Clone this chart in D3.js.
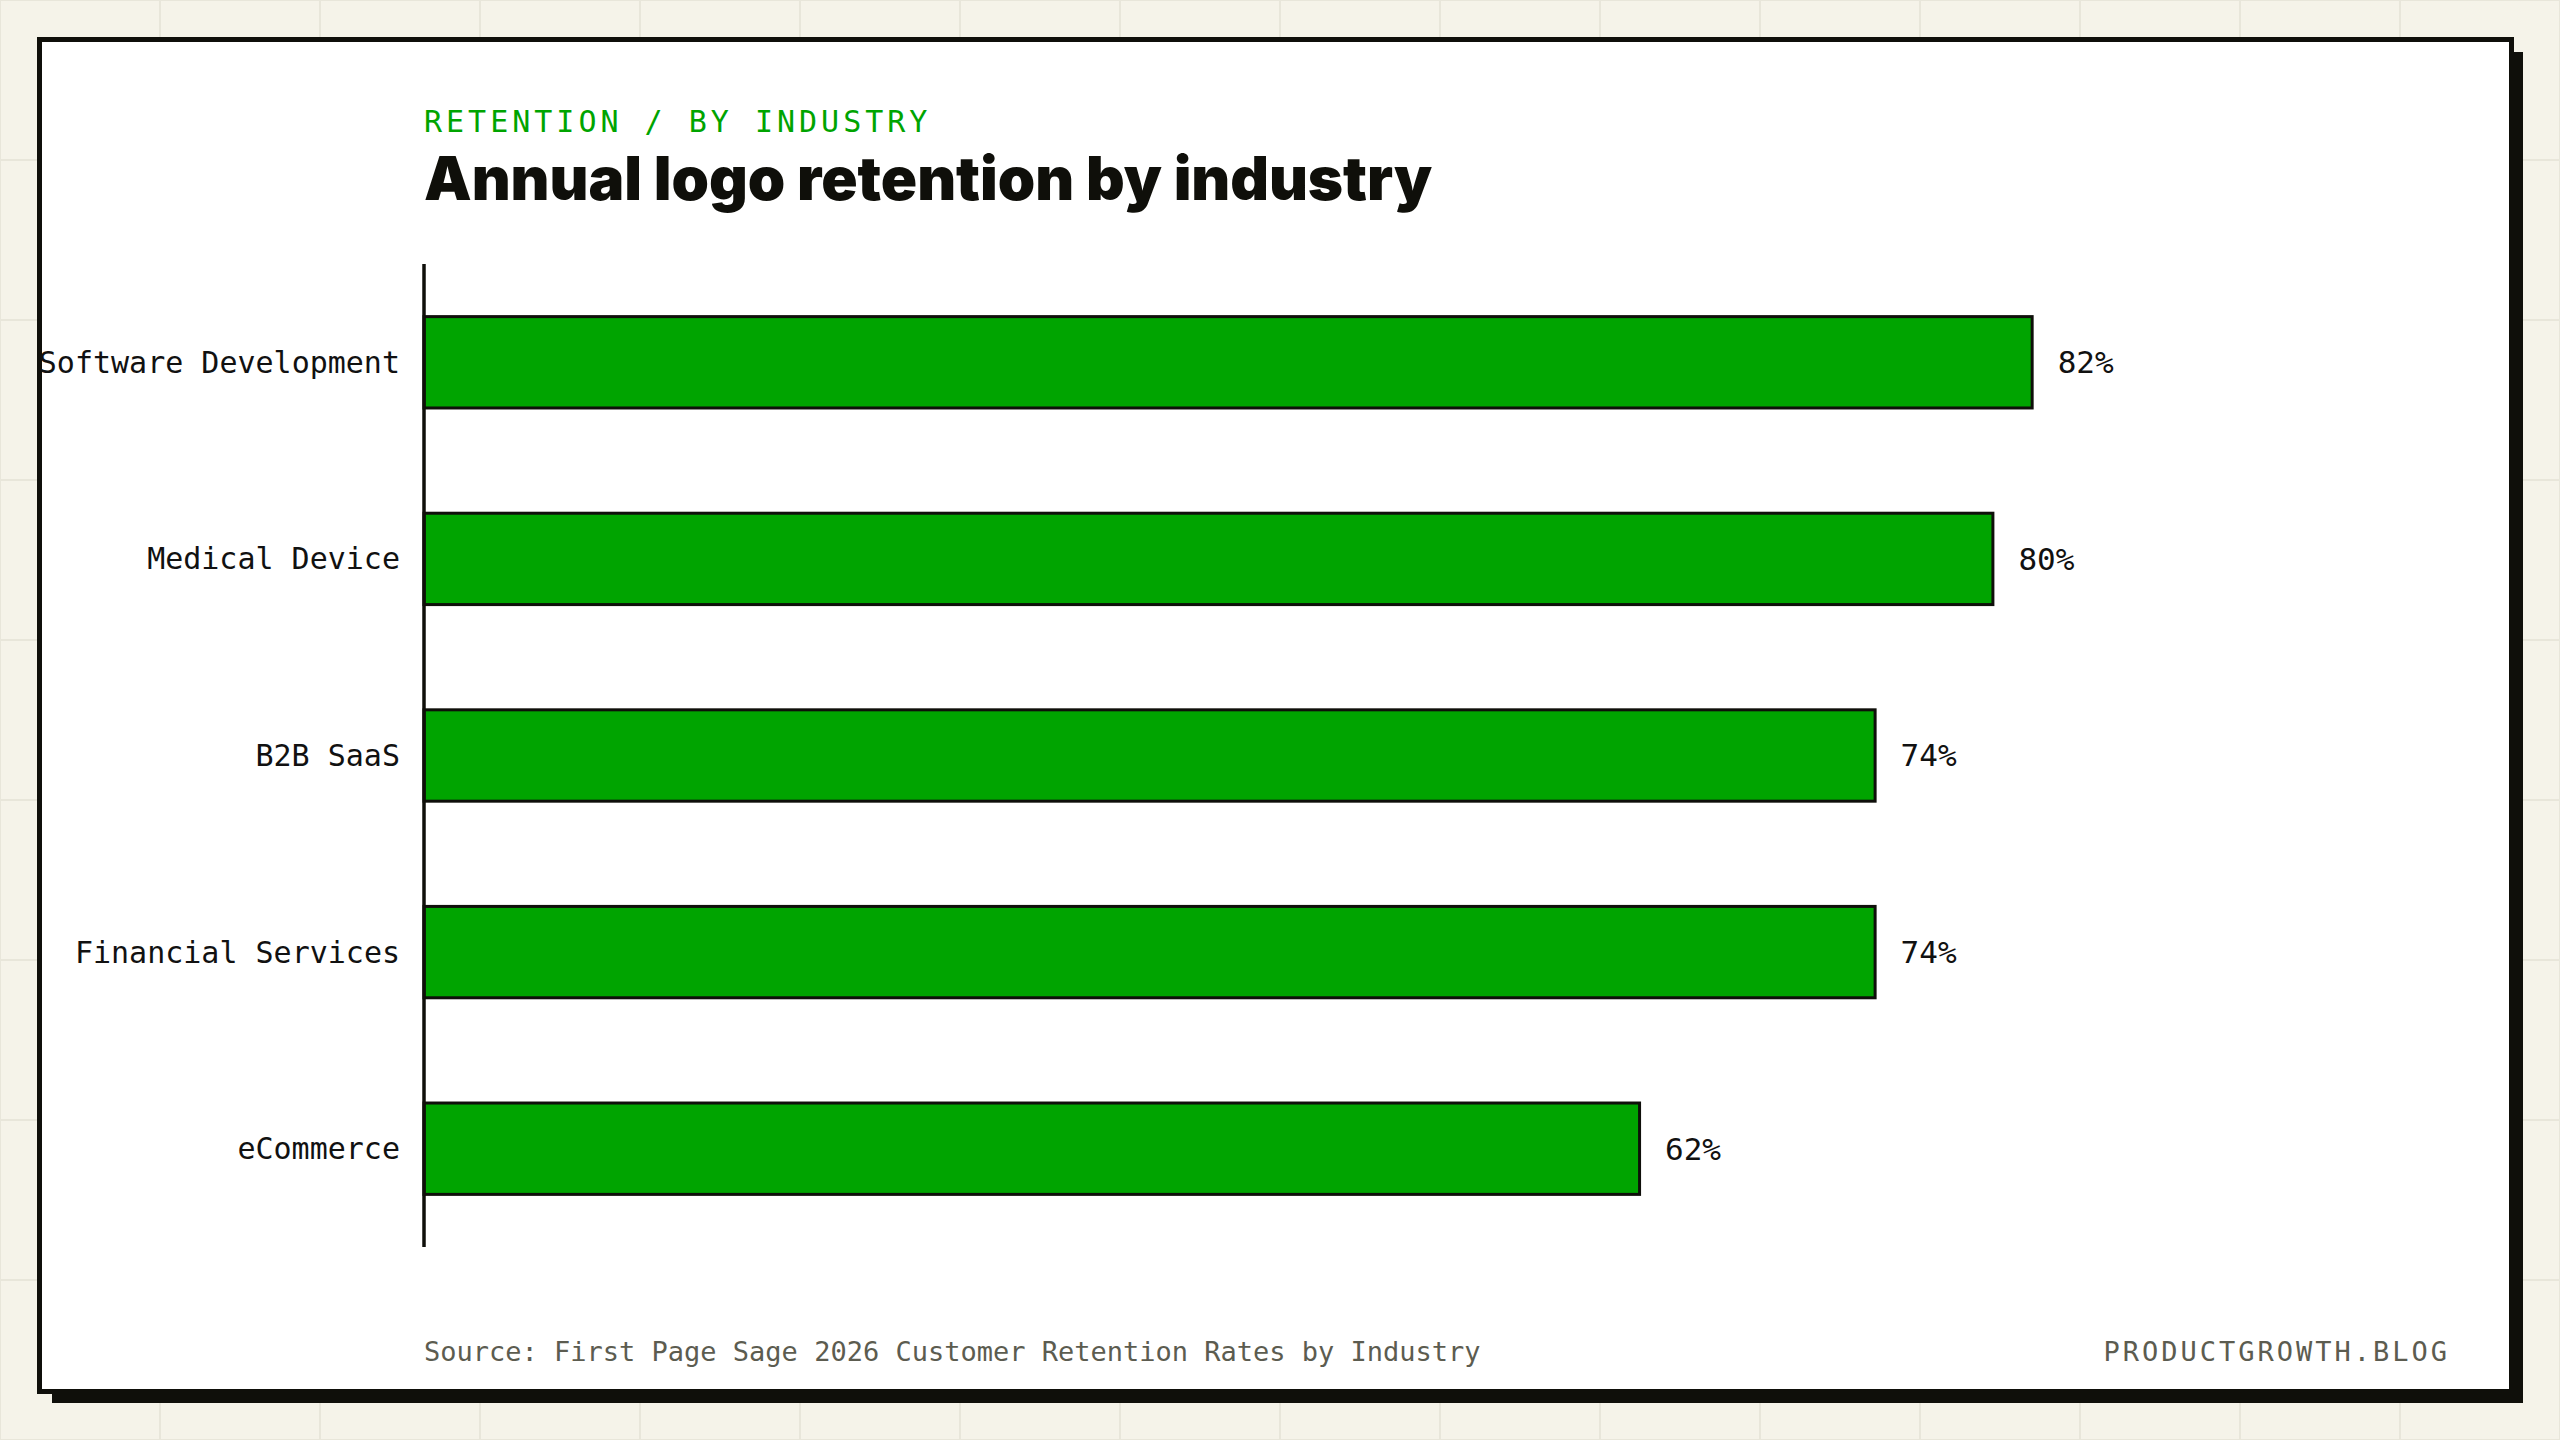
<!DOCTYPE html>
<html>
<head>
<meta charset="utf-8">
<script src="https://cdn.jsdelivr.net/npm/d3@7"></script>
<style>
  html, body { margin: 0; padding: 0; background: #f5f3e9; }
  svg { display: block; }
</style>
</head>
<body>
<svg id="chart" width="2560" height="1440"></svg>
<script>
// ---- data ----
const categories = ["Software Development", "Medical Device", "B2B SaaS", "Financial Services", "eCommerce"];
const values = [82, 80, 74, 74, 62];
const valueLabels = ["82%", "80%", "74%", "74%", "62%"];
const eyebrow = "RETENTION / BY INDUSTRY";
const title = "Annual logo retention by industry";
const source = "Source: First Page Sage 2026 Customer Retention Rates by Industry";
const brand = "PRODUCTGROWTH.BLOG";

// ---- layout ----
const W = 2560, H = 1440;
const mono = "'DejaVu Sans Mono', 'Liberation Mono', monospace";
const green = "#00a400";
const ink = "#0f0f0a";

const svg = d3.select("#chart");

// background grid
const bg = svg.append("g");
bg.append("rect").attr("width", W).attr("height", H).attr("fill", "#f5f3e9");
bg.selectAll("line.v").data(d3.range(0, W + 1, 160)).join("line")
  .attr("x1", d => d).attr("x2", d => d).attr("y1", 0).attr("y2", H)
  .attr("stroke", "#e8e6da").attr("stroke-width", 2);
bg.selectAll("line.h").data(d3.range(0, H + 1, 160)).join("line")
  .attr("y1", d => d).attr("y2", d => d).attr("x1", 0).attr("x2", W)
  .attr("stroke", "#e8e6da").attr("stroke-width", 2);

// card shadow + card
svg.append("rect").attr("x", 52).attr("y", 52).attr("width", 2523 - 52).attr("height", 1403 - 52).attr("fill", ink);
svg.append("rect").attr("x", 39.5).attr("y", 39.5).attr("width", 2511.5 - 39.5).attr("height", 1391.5 - 39.5)
  .attr("fill", "#ffffff").attr("stroke", ink).attr("stroke-width", 5);

// scales
const x = d3.scaleLinear().domain([0, 100]).range([424, 2387]);
const y = d3.scaleBand().domain(categories).range([264, 1247]).paddingInner(0.52).paddingOuter(0.26);

// bars
const g = svg.append("g");
const sw = 3;
g.selectAll("rect.bar").data(categories).join("rect")
  .attr("class", "bar")
  .attr("x", x(0))
  .attr("y", d => y(d) + sw / 2)
  .attr("width", (d, i) => x(values[i]) - x(0) - sw / 2)
  .attr("height", y.bandwidth() - sw)
  .attr("fill", green).attr("stroke", ink).attr("stroke-width", sw);

// y axis (line + labels)
const yAxis = d3.axisLeft(y).tickSize(0).tickPadding(24);
const ya = svg.append("g").attr("transform", `translate(${x(0)},0)`).call(yAxis);
ya.select(".domain").attr("stroke", ink).attr("stroke-width", 3.5).attr("d", `M0,264V1247`);
ya.selectAll("text").attr("font-family", mono).attr("font-size", 30).attr("fill", "#111").attr("dy", "0.35em");

// value labels
g.selectAll("text.val").data(categories).join("text")
  .attr("class", "val")
  .attr("x", (d, i) => x(values[i]) + 24)
  .attr("y", d => y(d) + y.bandwidth() / 2)
  .attr("dy", "0.35em")
  .attr("font-family", mono).attr("font-size", 31).attr("fill", "#111")
  .text((d, i) => valueLabels[i]);

// header
svg.append("text").attr("x", 424).attr("y", 132)
  .attr("font-family", mono).attr("font-size", 30).attr("letter-spacing", 4)
  .attr("fill", green).text(eyebrow);

const t = svg.append("text").attr("x", 424).attr("y", 200)
  .attr("font-family", "Inter, 'Liberation Sans', sans-serif").attr("font-weight", 900)
  .attr("font-size", 60).attr("fill", ink).text(title);
const natural = t.node().getComputedTextLength();
const ls = (1008 - natural) / (title.length - 1);
t.attr("letter-spacing", ls.toFixed(2));

// footer
svg.append("text").attr("x", 424).attr("y", 1361)
  .attr("font-family", mono).attr("font-size", 27).attr("fill", "#5c5c50").text(source);
svg.append("text").attr("x", 2450).attr("y", 1361).attr("text-anchor", "end")
  .attr("font-family", mono).attr("font-size", 27).attr("letter-spacing", 3)
  .attr("fill", "#5c5c50").text(brand);
</script>
</body>
</html>
